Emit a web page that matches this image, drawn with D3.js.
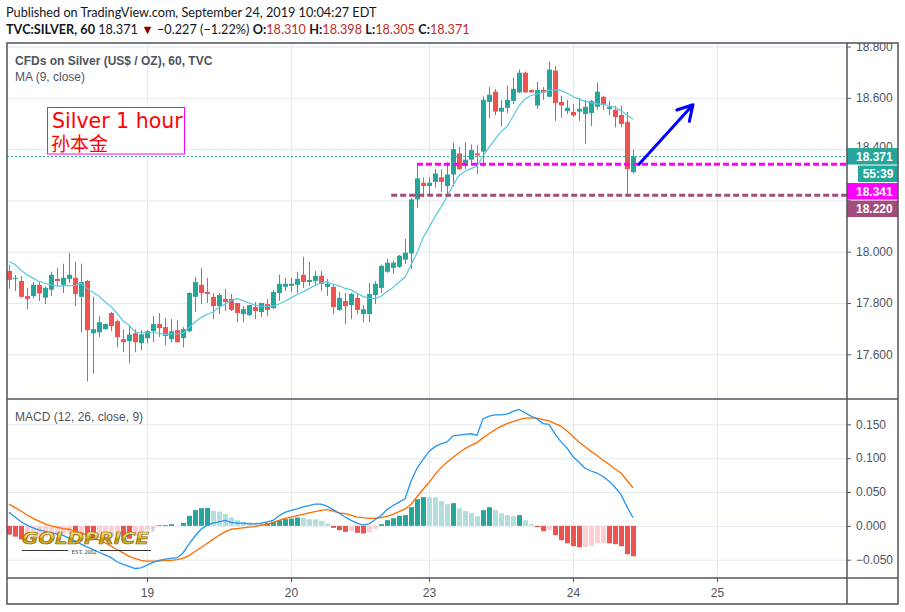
<!DOCTYPE html>
<html><head><meta charset="utf-8">
<script src="https://cdn.jsdelivr.net/npm/d3@7"></script>
<style>body{margin:0;background:#fff;}svg{display:block;}</style>
</head><body>
<script>
// ---------------- DATA ----------------
const dateLabels = ["19","20","23","24","25"];
const dateIdx = [23,47,70,94,118];
const priceTicks = [17.6,17.8,18.0,18.2,18.4,18.6,18.8];
const macdTicks = [-0.05,0,0.05,0.1,0.15];

const open = [17.925,17.894,17.886,17.827,17.827,17.871,17.821,17.852,17.894,17.871,
17.894,17.898,17.824,17.886,17.682,17.686,17.698,17.761,17.729,17.659,
17.651,17.682,17.643,17.663,17.690,17.718,17.706,17.659,17.694,17.663,
17.690,17.824,17.871,17.843,17.824,17.788,17.816,17.816,17.800,17.757,
17.753,17.784,17.765,17.796,17.780,17.839,17.863,17.867,17.871,17.910,
17.882,17.886,17.906,17.863,17.863,17.773,17.808,17.792,17.820,17.757,
17.757,17.831,17.859,17.922,17.937,17.941,17.969,17.993,18.204,18.269,
18.256,18.272,18.290,18.256,18.301,18.383,18.335,18.359,18.383,18.390,
18.584,18.624,18.546,18.561,18.588,18.621,18.698,18.631,18.570,18.631,
18.604,18.706,18.584,18.548,18.545,18.546,18.537,18.541,18.565,18.604,
18.557,18.553,18.533,18.506,18.310];
const high = [17.949,17.910,17.906,17.859,17.882,17.881,17.864,17.922,17.937,17.953,
17.996,17.961,17.953,17.890,17.824,17.749,17.720,17.765,17.735,17.698,
17.710,17.698,17.694,17.694,17.749,17.761,17.741,17.737,17.733,17.706,
17.843,17.902,17.937,17.898,17.839,17.839,17.855,17.835,17.801,17.788,
17.793,17.804,17.801,17.816,17.851,17.910,17.898,17.898,17.922,17.980,
17.961,17.925,17.925,17.894,17.871,17.843,17.839,17.839,17.839,17.792,
17.878,17.886,17.949,17.973,17.965,17.988,18.050,18.210,18.341,18.290,
18.290,18.322,18.322,18.349,18.425,18.408,18.427,18.418,18.416,18.605,
18.642,18.634,18.592,18.647,18.678,18.710,18.702,18.631,18.663,18.642,
18.741,18.725,18.608,18.592,18.576,18.600,18.592,18.592,18.659,18.608,
18.588,18.569,18.569,18.545,18.398];
const low = [17.856,17.847,17.821,17.776,17.818,17.808,17.796,17.827,17.867,17.839,
17.878,17.788,17.686,17.494,17.525,17.667,17.696,17.690,17.627,17.608,
17.565,17.608,17.616,17.643,17.647,17.667,17.635,17.647,17.646,17.627,
17.686,17.765,17.796,17.800,17.737,17.757,17.769,17.769,17.725,17.725,
17.749,17.737,17.745,17.749,17.776,17.808,17.847,17.843,17.839,17.859,
17.867,17.867,17.847,17.827,17.757,17.769,17.718,17.737,17.757,17.725,
17.725,17.796,17.839,17.918,17.914,17.937,17.953,17.932,18.171,18.212,
18.218,18.250,18.234,18.217,18.254,18.318,18.322,18.344,18.302,18.331,
18.520,18.532,18.488,18.540,18.576,18.618,18.621,18.621,18.556,18.592,
18.604,18.510,18.522,18.536,18.525,18.510,18.421,18.490,18.553,18.553,
18.533,18.485,18.485,18.218,18.305];
const close = [17.890,17.898,17.824,17.816,17.871,17.837,17.859,17.910,17.886,17.898,
17.910,17.835,17.882,17.694,17.698,17.725,17.718,17.710,17.667,17.647,
17.677,17.647,17.678,17.690,17.718,17.702,17.671,17.690,17.647,17.698,
17.839,17.882,17.839,17.835,17.788,17.831,17.804,17.773,17.761,17.776,
17.792,17.769,17.800,17.773,17.843,17.875,17.875,17.875,17.894,17.882,
17.890,17.906,17.875,17.875,17.784,17.820,17.788,17.835,17.773,17.776,
17.835,17.875,17.945,17.957,17.957,17.984,17.996,18.204,18.286,18.256,
18.269,18.305,18.272,18.301,18.400,18.322,18.359,18.396,18.376,18.592,
18.612,18.546,18.561,18.592,18.635,18.698,18.621,18.621,18.631,18.621,
18.710,18.580,18.570,18.561,18.531,18.557,18.565,18.588,18.624,18.573,
18.565,18.525,18.498,18.322,18.371];
const ma9 = [17.961,17.950,17.928,17.910,17.897,17.885,17.877,17.871,17.866,17.867,
17.868,17.869,17.876,17.857,17.841,17.826,17.805,17.786,17.760,17.731,
17.713,17.687,17.685,17.684,17.684,17.682,17.677,17.680,17.680,17.682,
17.704,17.726,17.743,17.756,17.765,17.783,17.796,17.810,17.817,17.810,
17.800,17.792,17.788,17.787,17.788,17.796,17.807,17.820,17.833,17.843,
17.856,17.868,17.879,17.883,17.873,17.867,17.857,17.851,17.838,17.826,
17.818,17.818,17.826,17.845,17.860,17.882,17.900,17.948,17.995,18.054,
18.095,18.137,18.174,18.214,18.259,18.297,18.314,18.324,18.333,18.373,
18.407,18.438,18.468,18.488,18.527,18.569,18.595,18.609,18.614,18.621,
18.629,18.631,18.629,18.618,18.605,18.595,18.586,18.582,18.576,18.575,
18.569,18.563,18.550,18.533,18.516];
const macd = [0.020,0.013,0.006,0.001,-0.003,-0.006,-0.008,-0.010,-0.012,-0.014,
-0.018,-0.022,-0.027,-0.031,-0.035,-0.039,-0.043,-0.047,-0.053,-0.057,
-0.060,-0.063,-0.062,-0.058,-0.054,-0.051,-0.049,-0.048,-0.047,-0.040,
-0.027,-0.015,-0.005,0.001,0.004,0.006,0.008,0.005,0.004,0.004,
0.003,0.003,0.004,0.006,0.008,0.015,0.020,0.023,0.025,0.028,
0.030,0.032,0.032,0.029,0.024,0.019,0.013,0.008,0.004,0.001,
0.003,0.009,0.015,0.024,0.030,0.035,0.040,0.066,0.085,0.098,
0.110,0.117,0.121,0.124,0.133,0.134,0.135,0.136,0.134,0.158,
0.162,0.164,0.164,0.165,0.169,0.172,0.167,0.162,0.158,0.151,
0.150,0.136,0.124,0.115,0.102,0.094,0.085,0.081,0.078,0.073,
0.066,0.057,0.046,0.028,0.012];
const signal = [0.032,0.027,0.022,0.016,0.011,0.007,0.003,0.000,-0.002,-0.004,
-0.005,-0.008,-0.010,-0.014,-0.018,-0.021,-0.025,-0.030,-0.035,-0.040,
-0.045,-0.048,-0.051,-0.052,-0.052,-0.052,-0.051,-0.051,-0.050,-0.048,
-0.044,-0.038,-0.032,-0.026,-0.020,-0.014,-0.009,-0.005,-0.004,-0.003,
-0.002,-0.001,0.001,0.002,0.005,0.008,0.011,0.013,0.015,0.017,
0.019,0.021,0.023,0.024,0.022,0.019,0.018,0.016,0.013,0.012,
0.011,0.011,0.012,0.014,0.017,0.021,0.025,0.032,0.043,0.054,
0.064,0.076,0.086,0.094,0.101,0.108,0.114,0.119,0.123,0.130,
0.136,0.142,0.147,0.151,0.154,0.157,0.159,0.159,0.159,0.157,
0.155,0.151,0.147,0.140,0.132,0.124,0.117,0.110,0.104,0.097,
0.091,0.084,0.078,0.067,0.056];
const hist = [-0.013,-0.016,-0.020,-0.019,-0.018,-0.017,-0.016,-0.015,-0.014,-0.013,
-0.012,-0.014,-0.013,-0.016,-0.019,-0.018,-0.017,-0.016,-0.015,-0.017,
-0.019,-0.015,-0.009,-0.006,-0.003,0.001,0.0012,0.0025,0.0005,0.0044,
0.0148,0.0232,0.0261,0.0265,0.0222,0.021,0.0178,0.0123,0.0084,0.0059,
0.0049,0.0044,0.0035,0.0044,0.0059,0.0084,0.0099,0.0108,0.0123,0.0118,
0.0099,0.0097,0.0074,0.0035,-0.003,-0.0064,-0.0089,-0.0074,-0.0104,-0.0113,
-0.0099,-0.0044,0.0025,0.0084,0.0113,0.0148,0.0158,0.0276,0.0394,0.0424,
0.0422,0.0420,0.0365,0.032,0.0335,0.0261,0.0217,0.0187,0.0143,0.0232,
0.0276,0.0232,0.0187,0.0158,0.0143,0.0158,0.0084,0.0025,-0.002,-0.0079,
-0.0064,-0.0138,-0.0212,-0.0256,-0.0300,-0.0316,-0.0314,-0.030,-0.0256,-0.0255,
-0.0258,-0.0271,-0.030,-0.0419,-0.0449];
const levelPrice = [18.341, 18.220];
const levelFrom = [68, 63.7];
const arrowFrom = [105, 18.341];
const arrowTo = [114, 18.573];
const countdown = "55:39";

// ---------------- STYLE / LAYOUT ----------------
const W=905,H=612, L=7, R=847, AR=898, T=43, M=399, MB=578, B=604;
const UP="#26a69a", DN="#ef5350", GRID="#e3eaf0", FRAME="#50535e", TXT="#50535e";
const AXF="'Liberation Sans Narrow','Liberation Sans',Arial,sans-serif";
const levelColor=["#ff00ff","#a24c7c"];

const svg=d3.select("body").append("svg").attr("width",W).attr("height",H)
  .style("font-family","'Liberation Sans',Arial,sans-serif");
const defs=svg.append("defs");
defs.append("clipPath").attr("id","cp1").append("rect").attr("x",L).attr("y",T).attr("width",R-L).attr("height",M-T);
defs.append("clipPath").attr("id","cp2").append("rect").attr("x",L).attr("y",M).attr("width",R-L).attr("height",MB-M);
defs.append("clipPath").attr("id","cpa").append("rect").attr("x",R).attr("y",T).attr("width",AR-R).attr("height",M-T);
const gold=defs.append("linearGradient").attr("id","gold").attr("x1",0).attr("y1",0).attr("x2",0).attr("y2",1);
gold.append("stop").attr("offset","0%").attr("stop-color","#fff6b0");
gold.append("stop").attr("offset","45%").attr("stop-color","#e8c735");
gold.append("stop").attr("offset","55%").attr("stop-color","#b8930c");
gold.append("stop").attr("offset","100%").attr("stop-color","#f2d65a");

const x=d3.scaleLinear().domain([0,104]).range([9,633]);
const y=d3.scaleLinear().domain([17.6,18.8]).range([354.3,46.5]);
const ym=d3.scaleLinear().domain([-0.05,0.15]).range([559.7,424.3]);
const idx=d3.range(close.length);

// header
const hdr=svg.append("g").style("font-family","Lato,'Liberation Sans',sans-serif").style("font-size","12.7px").attr("fill","#131722");
hdr.append("text").attr("x",6).attr("y",17).text("Published on TradingView.com, September 24, 2019 10:04:27 EDT");
const h2=hdr.append("text").attr("x",6).attr("y",34);
const lastI=close.length-1, f3=d3.format(".3f");
h2.append("tspan").attr("font-weight","bold").text("TVC:SILVER, 60 ");
h2.append("tspan").text(" "+f3(close[lastI])+" ");
h2.append("tspan").attr("fill","#8b0000").text("▼");
h2.append("tspan").text(" −0.227 (−1.22%) ");
[["O:",open[lastI]],["H:",high[lastI]],["L:",low[lastI]],["C:",close[lastI]]].forEach(([k,v])=>{
  h2.append("tspan").attr("font-weight","bold").text(k);
  h2.append("tspan").attr("fill","#c62828").text(f3(v)+" ");
});

// grids
svg.append("g").attr("transform",`translate(0,${T})`)
  .call(d3.axisBottom(x).tickValues(dateIdx).tickSize(MB-T).tickFormat(""))
  .call(g=>g.select(".domain").remove()).selectAll("line").attr("stroke",GRID);
svg.append("g").attr("clip-path","url(#cp1)").append("g").attr("transform",`translate(${L},0)`)
  .call(d3.axisRight(y).tickValues(priceTicks).tickSize(R-L).tickFormat(""))
  .call(g=>g.select(".domain").remove()).selectAll("line").attr("stroke",GRID);
svg.append("g").attr("clip-path","url(#cp2)").append("g").attr("transform",`translate(${L},0)`)
  .call(d3.axisRight(ym).tickValues(macdTicks).tickSize(R-L).tickFormat(""))
  .call(g=>g.select(".domain").remove()).selectAll("line").attr("stroke",GRID);

// pane labels
svg.append("text").attr("x",15).attr("y",65).attr("fill",TXT).attr("font-size","12px").attr("font-weight","bold").text("CFDs on Silver (US$ / OZ), 60, TVC");
svg.append("text").attr("x",15).attr("y",81).attr("fill",TXT).attr("font-size","12px").text("MA (9, close)");
svg.append("text").attr("x",15).attr("y",421).attr("fill",TXT).attr("font-size","12px").text("MACD (12, 26, close, 9)");

// candles
const pc=svg.append("g").attr("clip-path","url(#cp1)");
pc.selectAll("line.w").data(idx).join("line").attr("class","w")
  .attr("x1",i=>x(i)+0.5).attr("x2",i=>x(i)+0.5).attr("y1",i=>y(high[i])).attr("y2",i=>y(low[i]))
  .attr("stroke",i=>close[i]>=open[i]?UP:DN);
pc.selectAll("rect.b").data(idx).join("rect").attr("class","b")
  .attr("x",i=>x(i)-2).attr("width",5)
  .attr("y",i=>y(Math.max(open[i],close[i])))
  .attr("height",i=>Math.max(1,Math.abs(y(open[i])-y(close[i]))))
  .attr("fill",i=>close[i]>=open[i]?UP:DN);
pc.append("path").datum(ma9).attr("fill","none").attr("stroke","#58c9e2").attr("stroke-width",1.2)
  .attr("d",d3.line().x((d,i)=>x(i)).y(d=>y(d)));

// last price dotted line
pc.append("line").attr("x1",L).attr("x2",R).attr("y1",y(close[lastI])).attr("y2",y(close[lastI]))
  .attr("stroke",UP).attr("stroke-dasharray","2,2");
// level lines
levelPrice.forEach((p,k)=>{
  pc.append("line").attr("x1",x(levelFrom[k])).attr("x2",R).attr("y1",y(p)).attr("y2",y(p))
    .attr("stroke",levelColor[k]).attr("stroke-width",3).attr("stroke-dasharray","6,3");
});
// arrow
const ax1=x(arrowFrom[0]), ay1=y(arrowFrom[1]), ax2=x(arrowTo[0]), ay2=y(arrowTo[1]);
const ang=Math.atan2(ay1-ay2, ax1-ax2), hl=17;
pc.append("path").attr("fill","none").attr("stroke","#0000ff").attr("stroke-width",3).attr("stroke-linecap","round").attr("stroke-linejoin","round")
  .attr("d",`M${ax1},${ay1}L${ax2},${ay2}M${ax2+hl*Math.cos(ang+0.52)},${ay2+hl*Math.sin(ang+0.52)}L${ax2},${ay2}L${ax2+hl*Math.cos(ang-0.52)},${ay2+hl*Math.sin(ang-0.52)}`);

// annotation text box (one two-line text)
svg.append("rect").attr("x",47.5).attr("y",107.5).attr("width",137).attr("height",46.5).attr("fill","#fff").attr("stroke","#ff00ff");
const note=svg.append("text").attr("fill","#ff0000");
note.append("tspan").attr("x",52).attr("y",128).attr("font-size","20.5px").style("font-family","'DejaVu Sans',Verdana,sans-serif").text("Silver 1 hour");
note.append("tspan").attr("x",51).attr("y",150.5).attr("font-size","19px").style("font-family","'Noto Sans CJK SC',sans-serif").text("孙本金");

// MACD pane
const mc=svg.append("g").attr("clip-path","url(#cp2)");
mc.selectAll("rect.h").data(idx).join("rect").attr("class","h")
  .attr("x",i=>x(i)-2).attr("width",5)
  .attr("y",i=>Math.min(ym(0),ym(hist[i]))).attr("height",i=>Math.abs(ym(hist[i])-ym(0)))
  .attr("fill",i=>{const v=hist[i], p=i>0?hist[i-1]:v+1e-9;
    return v>=0 ? (v>=p?UP:"#b2dfdb") : (v<p?DN:"#ffcdd2");});
mc.append("path").datum(signal).attr("fill","none").attr("stroke","#ff6d00").attr("stroke-width",1.3)
  .attr("d",d3.line().x((d,i)=>x(i)).y(d=>ym(d)));
mc.append("path").datum(macd).attr("fill","none").attr("stroke","#2196f3").attr("stroke-width",1.3)
  .attr("d",d3.line().x((d,i)=>x(i)).y(d=>ym(d)));

// GOLDPRICE logo
const lg=svg.append("g");
lg.append("text").attr("x",22).attr("y",543.5).attr("font-size","16px").attr("font-weight","bold").attr("font-style","italic")
  .style("font-family","'DejaVu Sans',sans-serif").attr("textLength",127).attr("lengthAdjust","spacingAndGlyphs")
  .attr("fill","url(#gold)").attr("stroke","#7a5c00").attr("stroke-width",0.6).text("GOLDPRICE");
lg.append("text").attr("x",151).attr("y",532).attr("font-size","5px").attr("fill","#888").text("®");
lg.append("line").attr("x1",22).attr("x2",68).attr("y1",550.5).attr("y2",550.5).attr("stroke","#333");
lg.append("line").attr("x1",100).attr("x2",151).attr("y1",550.5).attr("y2",550.5).attr("stroke","#333");
lg.append("text").attr("x",84).attr("y",553.5).attr("text-anchor","middle").attr("font-size","6px").attr("fill","#333")
  .style("font-family","'Liberation Serif',serif").text("EST. 2002");

// axes (labels hidden behind price boxes are not drawn)
const pa=svg.append("g").attr("clip-path","url(#cpa)").append("g").attr("transform",`translate(${R},0)`)
  .call(d3.axisRight(y).tickValues(priceTicks).tickSize(4).tickPadding(5)
    .tickFormat(d=>Math.abs(d-18.2)<1e-9?"":d3.format(".3f")(d)));
const maxis=svg.append("g").attr("transform",`translate(${R},0)`)
  .call(d3.axisRight(ym).tickValues(macdTicks).tickSize(4).tickPadding(5).tickFormat(d3.format(".3f")));
const ta=svg.append("g").attr("transform",`translate(0,${MB})`)
  .call(d3.axisBottom(x).tickValues(dateIdx).tickSize(4).tickPadding(6).tickFormat((d,i)=>dateLabels[i]));
[pa,maxis,ta].forEach(g=>{g.select(".domain").remove();
  g.selectAll("line").attr("stroke",TXT);
  g.selectAll("text").attr("fill",TXT).style("font-family",AXF).style("font-size","12px");});
// 18.400 peeks out above the last-price box only
pa.selectAll(".tick").filter(d=>Math.abs(d-18.4)<1e-9).select("text").attr("dy","0.1em");

// price labels on axis
const boxes=[
  {txt:f3(close[lastI]), c:UP},
  {txt:countdown, c:UP, narrow:true},
  {txt:f3(levelPrice[0]), c:levelColor[0]},
  {txt:f3(levelPrice[1]), c:levelColor[1]}];
let boxTop=y(close[lastI])-8.5;
boxes.forEach(b=>{
  const bx=b.narrow?858:R, h=16.5;
  svg.append("rect").attr("x",bx).attr("y",boxTop).attr("width",AR-bx).attr("height",h).attr("fill",b.c);
  svg.append("text").attr("x",b.narrow?878:856).attr("y",boxTop+12.5).attr("text-anchor",b.narrow?"middle":"start")
    .attr("fill","#fff").attr("font-weight","bold").style("font-family",AXF).style("font-size","12px").text(b.txt);
  boxTop+=h+1;
});

// frame
const fr=svg.append("g").attr("stroke",FRAME).attr("stroke-width",1.5).attr("fill","none");
fr.append("rect").attr("x",L).attr("y",T).attr("width",AR-L).attr("height",B-T);
fr.append("line").attr("x1",R).attr("x2",R).attr("y1",T).attr("y2",B);
fr.append("line").attr("x1",L).attr("x2",AR).attr("y1",M).attr("y2",M);
fr.append("line").attr("x1",L).attr("x2",AR).attr("y1",MB).attr("y2",MB);
</script>
</body></html>
